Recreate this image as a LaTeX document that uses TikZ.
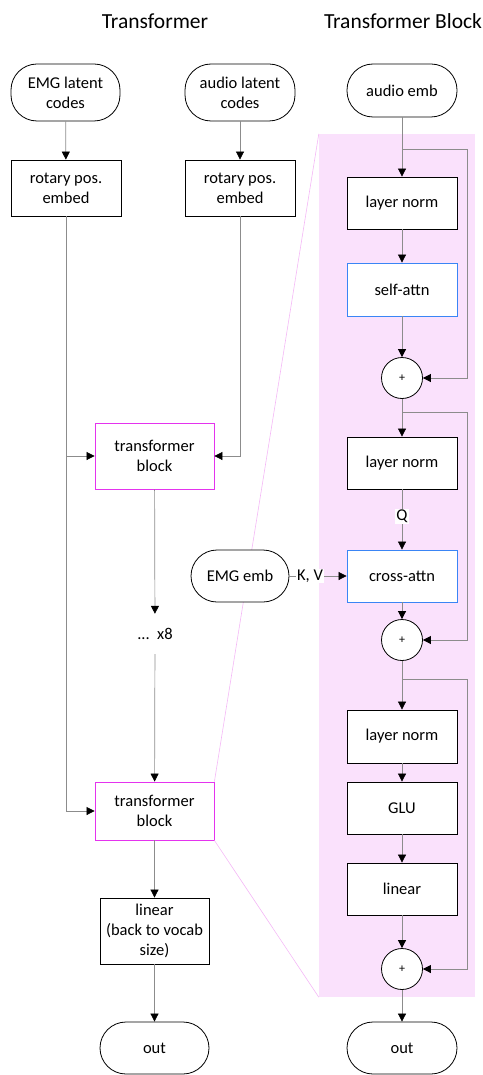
\documentclass[tikz,border=0pt]{standalone}
\usepackage{fontspec}
\setmainfont{Carlito}
\usetikzlibrary{arrows.meta}
\definecolor{pinkbg}{HTML}{FAE1FC}
\definecolor{magborder}{HTML}{E433EE}
\definecolor{blueborder}{HTML}{3A85F5}
\definecolor{linegray}{HTML}{8C8C8C}
\definecolor{zoomline}{HTML}{F4B8F6}
\tikzset{
  base/.style={draw=black, line width=0.8pt, fill=white, align=center, inner sep=1pt, font=\fontsize{16.5}{20}\selectfont},
  term/.style={base, rectangle, rounded corners=26pt, minimum width=#1, minimum height=54pt},
  term/.default=110pt,
  blk/.style={base, rectangle, minimum width=110pt, minimum height=52pt},
  tblk/.style={base, draw=magborder, minimum width=119pt},
  attn/.style={blk, draw=blueborder},
  plus/.style={draw=black, line width=0.8pt, fill=white, circle, minimum size=41pt, inner sep=0pt, font=\fontsize{12}{14}\selectfont},
  conn/.style={draw=linegray, line width=0.7pt, -{Triangle[length=8pt,width=8pt,color=black]}},
  lbl/.style={fill=white, inner sep=1pt, font=\fontsize{16.5}{20}\selectfont},
  title/.style={font=\fontsize{21.5}{25}\selectfont},
  zoomln/.style={draw=zoomline, line width=0.6pt}
}
\begin{document}
\begin{tikzpicture}[x=1pt, y=-1pt]
\useasboundingbox (0,0) rectangle (482,1075);
% background panel
\node[fill=pinkbg, draw=none, minimum width=156pt, minimum height=863pt, inner sep=0pt] (bg) at (397,565.5) {};
% titles
\node[title] (t1) at (155,21) {Transformer};
\node[title] (t2) at (403,21) {Transformer Block};

% left column
\node[term=109pt, minimum height=57pt] (emgc) at (65.5,92.5) {EMG latent\\codes};
\node[term=110pt, minimum height=57pt] (audc) at (240,92.5) {audio latent\\codes};
\node[blk, minimum height=56pt] (rot1) at (66,188) {rotary pos.\\embed};
\node[blk, minimum height=56pt] (rot2) at (240,188) {rotary pos.\\embed};
\node[tblk, minimum height=66pt] (tb1) at (154.5,456) {transformer\\block};
\node[align=center, inner sep=0pt, minimum height=40pt, font=\fontsize{16.5}{20}\selectfont] (dots) at (155,634) {...\ \ x8};
\node[tblk, minimum height=58pt] (tb2) at (154.5,811) {transformer\\block};
\node[blk, minimum width=109pt, minimum height=66pt] (lin1) at (154.5,931) {linear\\(back to vocab\\size)};
\node[term=109pt, minimum height=52pt] (out1) at (154.5,1048) {out};

% zoom lines
\draw[zoomln] (bg.north west) -- (tb2.north east);
\draw[zoomln] (tb2.south east) -- (bg.south west);

% right column
\node[term=110pt, minimum height=53pt] (aemb) at (402,90.5) {audio emb};
\node[blk] (ln1) at (402,203) {layer norm};
\node[attn, minimum height=53pt] (sa) at (402,289.5) {self-attn};
\node[plus] (p1) at (402,378) {+};
\node[blk] (ln2) at (402,463) {layer norm};
\node[attn] (ca) at (402,576) {cross-attn};
\node[term=98pt, minimum height=52pt] (emge) at (240,576) {EMG emb};
\node[plus] (p2) at (402,640) {+};
\node[blk, minimum height=53pt] (ln3) at (402,736.5) {layer norm};
\node[blk] (glu) at (402,808) {GLU};
\node[blk] (lin2) at (402,889) {linear};
\node[plus] (p3) at (402,969) {+};
\node[term=110pt, minimum height=52pt] (out2) at (402,1048) {out};

\coordinate (s1) at (402,149);
\coordinate (s2) at (402,412);
\coordinate (s3) at (402,679);

% left connectors
\draw[conn] (emgc) -- (rot1);
\draw[conn] (audc) -- (rot2);
\draw[conn] (rot1.south) |- (tb1.west);
\draw[conn] (rot1.south) |- (tb2.west);
\draw[conn] (rot2.south) |- (tb1.east);
\draw[conn] (tb1) -- (dots);
\draw[conn] (dots) -- (tb2);
\draw[conn] (tb2) -- (lin1);
\draw[conn] (lin1) -- (out1);

% right connectors
\draw[conn] (aemb) -- (ln1);
\draw[conn] (ln1) -- (sa);
\draw[conn] (sa) -- (p1);
\draw[conn] (s1) -| (467,378) -- (p1.east);
\draw[conn] (p1) -- (ln2);
\draw[conn] (ln2) -- node[lbl, pos=0.45] (q) {Q} (ca);
\draw[conn] (emge) -- node[lbl, pos=0.36] (kv) {K, V} (ca);
\draw[conn] (ca) -- (p2);
\draw[conn] (s2) -| (467,640) -- (p2.east);
\draw[conn] (p2) -- (ln3);
\draw[conn] (ln3) -- (glu);
\draw[conn] (glu) -- (lin2);
\draw[conn] (lin2) -- (p3);
\draw[conn] (s3) -| (467,969) -- (p3.east);
\draw[conn] (p3) -- (out2);
\end{tikzpicture}
\end{document}
